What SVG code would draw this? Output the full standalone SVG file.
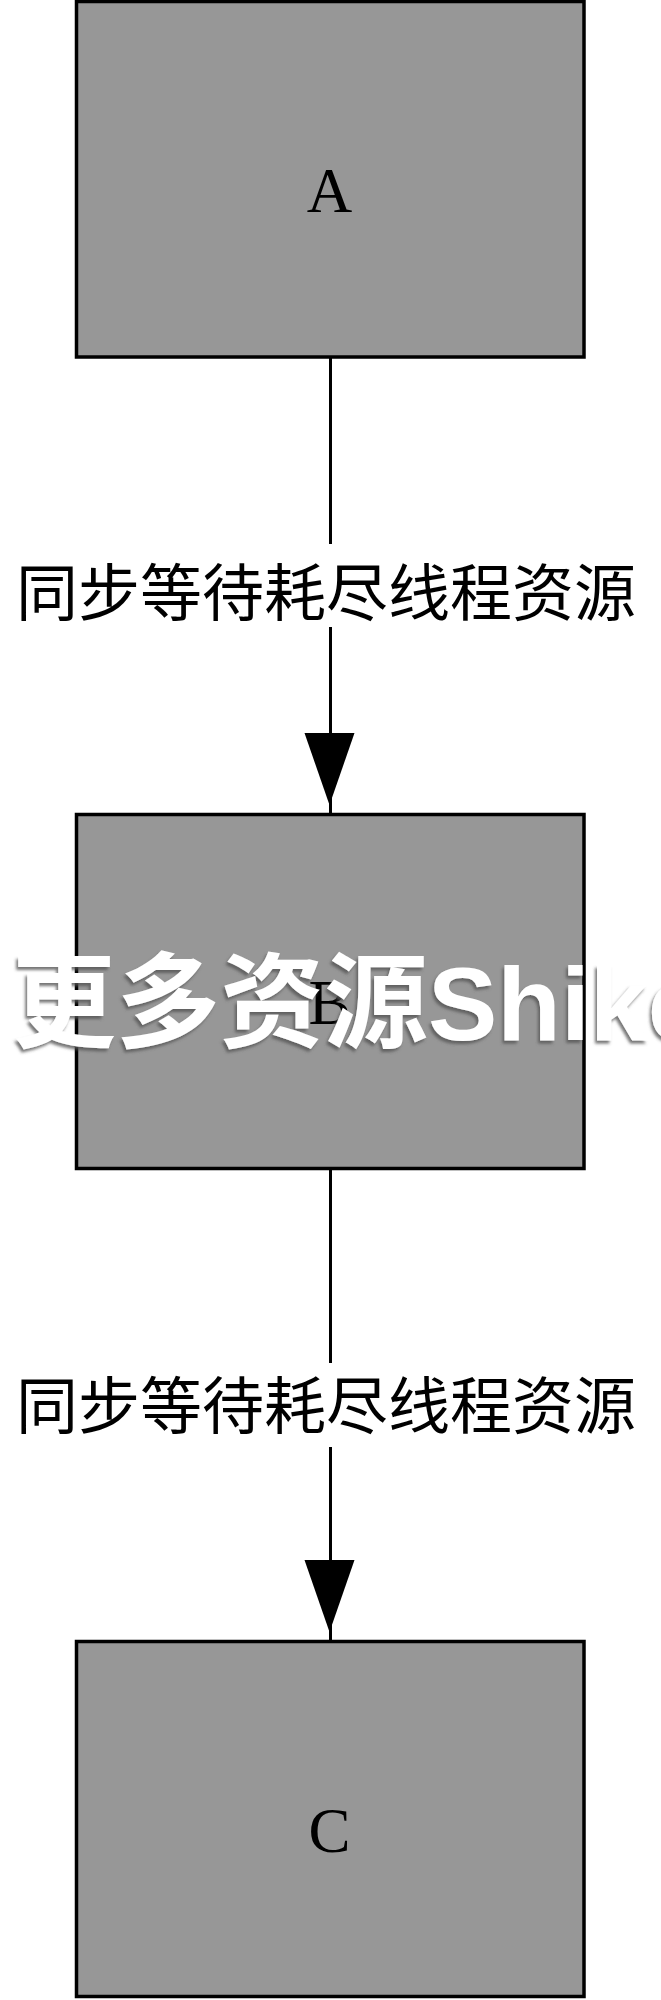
<svg xmlns="http://www.w3.org/2000/svg" width="661" height="2000" viewBox="0 0 661 2000">
  <style>
    .box { fill: #979797; stroke: #000; stroke-width: 3.5; }
    .nodetext { font-family: "Liberation Serif", "Times New Roman", serif; font-size: 63px; fill: #000; text-anchor: middle; }
    .label { font-family: "Noto Sans CJK SC", "Noto Sans CJK TC", sans-serif; font-size: 62px; fill: #000; text-anchor: middle; }
    .edge { stroke: #000; stroke-width: 3; fill: none; }
    .wm { font-family: "Liberation Sans", Arial, "Noto Sans CJK SC", sans-serif; font-weight: bold; font-size: 104px; fill: #ffffff; }
  </style>
  <defs>
    <path id="arrowhead" d="M -25 0 L 25 0 L 0 72 Z" fill="#000"/>
    <filter id="wmshadow" x="-5%" y="-20%" width="110%" height="140%">
      <feDropShadow dx="-2" dy="3" stdDeviation="1.5" flood-color="#555" flood-opacity="0.8"/>
    </filter>
  </defs>
  <rect width="661" height="2000" fill="#fff"/>

  <g id="node-A">
    <rect class="box" x="76.5" y="1.5" width="507.5" height="355.5"/>
    <text class="nodetext" x="329.5" y="211.5">A</text>
  </g>
  <g id="node-B">
    <rect class="box" x="76.5" y="814.5" width="507.5" height="354"/>
    <text class="nodetext" x="329.5" y="1023.5">B</text>
  </g>
  <g id="node-C">
    <rect class="box" x="76.5" y="1641.5" width="507.5" height="355"/>
    <text class="nodetext" x="329.5" y="1851.5">C</text>
  </g>

  <g id="connectors">
    <g id="edge-A-B">
      <line class="edge" x1="330.5" y1="358" x2="330.5" y2="544"/>
      <line class="edge" x1="330.5" y1="627" x2="330.5" y2="813"/>
      <use href="#arrowhead" x="329.5" y="733"/>
      <text class="label" x="326" y="616">同步等待耗尽线程资源</text>
    </g>
    <g id="edge-B-C">
      <line class="edge" x1="330.5" y1="1170" x2="330.5" y2="1363"/>
      <line class="edge" x1="330.5" y1="1447" x2="330.5" y2="1640"/>
      <use href="#arrowhead" x="329.5" y="1560"/>
      <text class="label" x="326" y="1429">同步等待耗尽线程资源</text>
    </g>
  </g>

  <text class="wm" x="12" y="1040" filter="url(#wmshadow)">更多资源Shike</text>
</svg>
